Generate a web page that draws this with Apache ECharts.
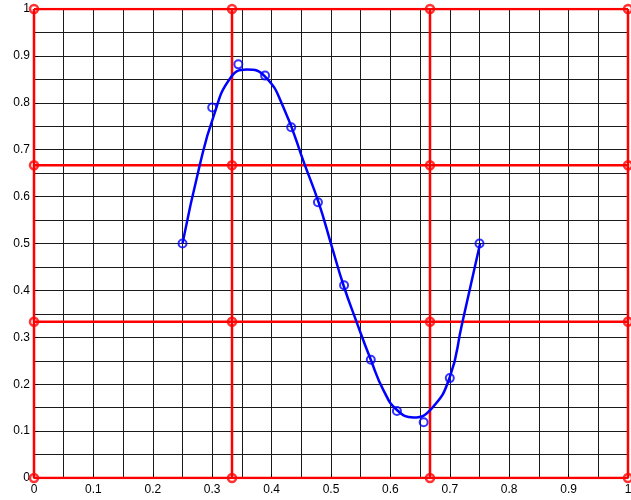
<!DOCTYPE html>
<html>
<head>
<meta charset="utf-8">
<script src="https://cdn.jsdelivr.net/npm/echarts@6/dist/echarts.min.js"></script>
<style>
  html, body { margin: 0; padding: 0; background: #fff; overflow: hidden; }
  #main { width: 631px; height: 500px; }
</style>
</head>
<body>
<div id="main"></div>
<script>
// sample points (blue circles)
const pointX = [0.25, 0.3, 0.344, 0.389, 0.433, 0.478, 0.522, 0.567, 0.611, 0.656, 0.7, 0.75];
const pointY = [0.5, 0.79, 0.882, 0.858, 0.748, 0.588, 0.411, 0.252, 0.143, 0.119, 0.213, 0.5];

// fitted curve
const curveX = [0.25, 0.279, 0.302, 0.33, 0.358, 0.389, 0.42, 0.456, 0.479, 0.501, 0.521,
  0.543, 0.567, 0.588, 0.611, 0.639, 0.67, 0.7, 0.72, 0.751];
const curveY = [0.5, 0.667, 0.77, 0.852, 0.871, 0.856, 0.79, 0.667, 0.588, 0.495, 0.411,
  0.333, 0.252, 0.188, 0.145, 0.129, 0.149, 0.215, 0.325, 0.5];

// red division lines (thirds)
const redPos = [0, 1 / 3, 2 / 3, 1];

const RED = "#ff0000";
const BLUE = "#0000ff";

const chart = echarts.init(document.getElementById("main"));

const axisCommon = {
  type: "value",
  min: 0,
  max: 1,
  interval: 0.1,
  axisLine: { show: true, lineStyle: { color: "#000", width: 1 } },
  axisTick: { show: true, inside: true, length: 4, lineStyle: { color: "#000" } },
  minorTick: { show: false, splitNumber: 2 },
  splitLine: { show: true, lineStyle: { color: "#1a1a1a", width: 1 } },
  minorSplitLine: { show: true, lineStyle: { color: "#1a1a1a", width: 1 } },
  axisLabel: { color: "#000", fontSize: 12, fontFamily: "Liberation Sans, Arial, sans-serif" }
};

// red lines: one series per line
const redSeries = [];
redPos.forEach((p, i) => {
  redSeries.push({
    type: "line", name: "v" + i, data: [[p, 0], [p, 1]],
    symbol: "none", silent: true, z: 3,
    lineStyle: { color: RED, width: 2.5 }
  });
  redSeries.push({
    type: "line", name: "h" + i, data: [[0, p], [1, p]],
    symbol: "none", silent: true, z: 3,
    lineStyle: { color: RED, width: 2.5 }
  });
});

const redNodes = [];
redPos.forEach(a => redPos.forEach(b => redNodes.push([a, b])));

chart.setOption({
  animation: false,
  grid: { left: 34, right: 3, top: 9, bottom: 22, containLabel: false, outerBoundsMode: "none" },
  xAxis: Object.assign({}, axisCommon, {
    axisLabel: Object.assign({}, axisCommon.axisLabel, { margin: 6 })
  }),
  yAxis: Object.assign({}, axisCommon, {
    axisLabel: Object.assign({}, axisCommon.axisLabel, { margin: 4 })
  }),
  series: redSeries.concat([
    {
      type: "scatter", data: redNodes, symbol: "circle", symbolSize: 8, z: 4,
      silent: true,
      itemStyle: { color: "transparent", borderColor: RED, borderWidth: 2.5 }
    },
    {
      type: "line", data: curveX.map((x, i) => [x, curveY[i]]),
      smooth: 0.5, symbol: "none", z: 5,
      lineStyle: { color: BLUE, width: 2.5 }
    },
    {
      type: "scatter", data: pointX.map((x, i) => [x, pointY[i]]),
      symbol: "circle", symbolSize: 8, z: 6,
      itemStyle: { color: "transparent", borderColor: BLUE, borderWidth: 2 }
    }
  ])
});
</script>
</body>
</html>
